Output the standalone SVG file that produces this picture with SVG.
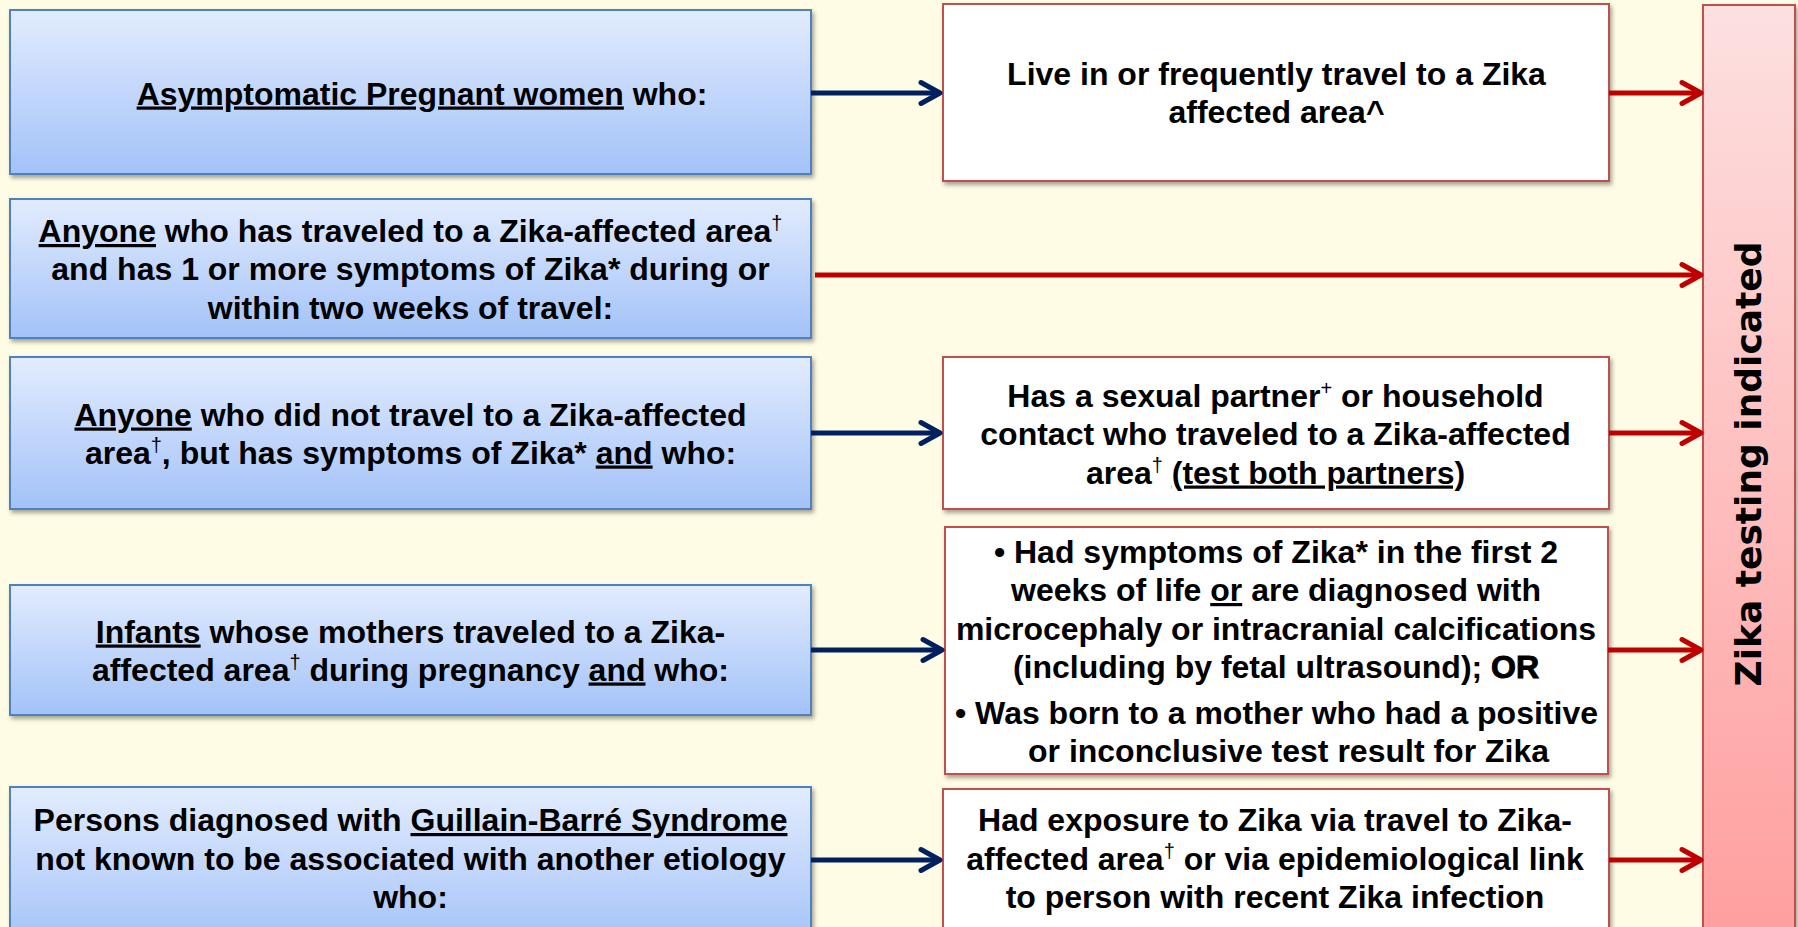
<svg xmlns="http://www.w3.org/2000/svg" width="1798" height="927" viewBox="0 0 1798 927">
<defs>
  <linearGradient id="gBlue" x1="0" y1="0" x2="0" y2="1">
    <stop offset="0" stop-color="#E2ECFE"/>
    <stop offset="1" stop-color="#A3C2F8"/>
  </linearGradient>
  <linearGradient id="gRed" x1="0" y1="0" x2="0" y2="1">
    <stop offset="0" stop-color="#FDE0E0"/>
    <stop offset="1" stop-color="#FF9E9E"/>
  </linearGradient>
  <filter id="sh" x="-5%" y="-10%" width="110%" height="130%">
    <feDropShadow dx="2" dy="3" stdDeviation="2" flood-color="#000" flood-opacity="0.35"/>
  </filter>
  <marker id="hb" markerUnits="userSpaceOnUse" viewBox="-26 -14 30 28" markerWidth="30" markerHeight="28" refX="0" refY="0" orient="auto" overflow="visible">
    <path d="M-19,-10.5 L0,0 L-19,10.5" fill="none" stroke="#002060" stroke-width="5" stroke-linecap="round" stroke-linejoin="round"/>
  </marker>
  <marker id="hr" markerUnits="userSpaceOnUse" viewBox="-26 -14 30 28" markerWidth="30" markerHeight="28" refX="0" refY="0" orient="auto" overflow="visible">
    <path d="M-19,-10.5 L0,0 L-19,10.5" fill="none" stroke="#C00000" stroke-width="5" stroke-linecap="round" stroke-linejoin="round"/>
  </marker>
</defs>
<style>
  .lb{fill:url(#gBlue);stroke:#4F81BD;stroke-width:2;filter:url(#sh)}
  .rb{fill:#FFFFFF;stroke:#C0504D;stroke-width:2;filter:url(#sh)}
  .bar{fill:url(#gRed);stroke:#C0504D;stroke-width:2;filter:url(#sh)}
  text{font-family:"Liberation Sans",Arial,sans-serif;font-weight:bold;font-size:32px;fill:#000;text-anchor:middle}
  .u{text-decoration:underline}
  .sup{font-size:20px;font-weight:normal}
  .vt{font-family:"DejaVu Sans",Verdana,sans-serif;font-size:36px}
  .ab{stroke:#002060;stroke-width:5;fill:none;marker-end:url(#hb)}
  .ar{stroke:#C00000;stroke-width:5;fill:none;marker-end:url(#hr)}
  .heavy{stroke:#000;stroke-width:1}
</style>
<rect x="0" y="0" width="1798" height="927" fill="#FEFCE4"/>

<g id="result">
  <rect class="bar" x="1703" y="5" width="92" height="940"/>
  <text class="vt" transform="translate(1761,464) rotate(-90)" x="0" y="0">Zika testing indicated</text>
</g>

<g id="left1">
  <rect class="lb" x="10" y="10" width="801" height="164"/>
  <text x="422" y="104.5"><tspan class="u">Asymptomatic Pregnant women</tspan> who:</text>
</g>
<g id="left2">
  <rect class="lb" x="10" y="199" width="801" height="139"/>
  <text x="410.5" y="242"><tspan class="u">Anyone</tspan> who has traveled to a Zika-affected area<tspan class="sup" dy="-12">†</tspan></text>
  <text x="410.5" y="280">and has 1 or more symptoms of Zika* during or</text>
  <text x="410.5" y="318.5">within two weeks of travel:</text>
</g>
<g id="left3">
  <rect class="lb" x="10" y="357" width="801" height="152"/>
  <text x="410.5" y="425.5"><tspan class="u">Anyone</tspan> who did not travel to a Zika-affected</text>
  <text x="410.5" y="463.5">area<tspan class="sup" dy="-12">†</tspan><tspan dy="12">, but has symptoms of Zika* </tspan><tspan class="u">and</tspan> who:</text>
</g>
<g id="left4">
  <rect class="lb" x="10" y="585" width="801" height="130"/>
  <text x="410.5" y="642.5"><tspan class="u">Infants</tspan> whose mothers traveled to a Zika-</text>
  <text x="410.5" y="680.5">affected area<tspan class="sup" dy="-12">†</tspan><tspan dy="12"> during pregnancy </tspan><tspan class="u">and</tspan> who:</text>
</g>
<g id="left5">
  <rect class="lb" x="10" y="787" width="801" height="160"/>
  <text x="410.5" y="831">Persons diagnosed with <tspan class="u">Guillain-Barré Syndrome</tspan></text>
  <text x="410.5" y="869.5">not known to be associated with another etiology</text>
  <text x="410.5" y="908">who:</text>
</g>

<g id="right1">
  <rect class="rb" x="943" y="4" width="666" height="177"/>
  <text x="1276.5" y="85">Live in or frequently travel to a Zika</text>
  <text x="1276.5" y="123">affected area^</text>
</g>
<g id="right3">
  <rect class="rb" x="943" y="357" width="666" height="152"/>
  <text x="1275.5" y="406.5">Has a sexual partner<tspan class="sup" dy="-12">+</tspan><tspan dy="12"> or household</tspan></text>
  <text x="1275.5" y="445">contact who traveled to a Zika-affected</text>
  <text x="1275.5" y="483.5">area<tspan class="sup" dy="-12">†</tspan><tspan dy="12"> </tspan><tspan class="u">(test both partners)</tspan></text>
</g>
<g id="right4">
  <rect class="rb" x="945" y="527" width="663" height="247"/>
  <text x="1276" y="562.5">• Had symptoms of Zika* in the first 2</text>
  <text x="1276" y="601">weeks of life <tspan class="u">or</tspan> are diagnosed with</text>
  <text x="1276" y="639.5">microcephaly or intracranial calcifications</text>
  <text x="1276" y="678">(including by fetal ultrasound); <tspan class="heavy">OR</tspan></text>
  <text x="1276.5" y="724">•  Was born to a mother who had a positive</text>
  <text x="1288.5" y="762">or inconclusive test result for Zika</text>
</g>
<g id="right5">
  <rect class="rb" x="943" y="789" width="666" height="160"/>
  <text x="1275" y="831">Had exposure to Zika via travel to Zika-</text>
  <text x="1275" y="869.5">affected area<tspan class="sup" dy="-12">†</tspan><tspan dy="12"> or via epidemiological link</tspan></text>
  <text x="1275" y="908">to person with recent Zika infection</text>
</g>

<g id="connectors">
  <path class="ab" d="M811,93 H940"/>
  <path class="ab" d="M811,433 H940"/>
  <path class="ab" d="M811,650 H942"/>
  <path class="ab" d="M811,860 H940"/>
  <path class="ar" d="M1609,93 H1701"/>
  <path class="ar" d="M815,275 H1701"/>
  <path class="ar" d="M1609,433 H1701"/>
  <path class="ar" d="M1608,650 H1701"/>
  <path class="ar" d="M1609,860 H1701"/>
</g>
</svg>
